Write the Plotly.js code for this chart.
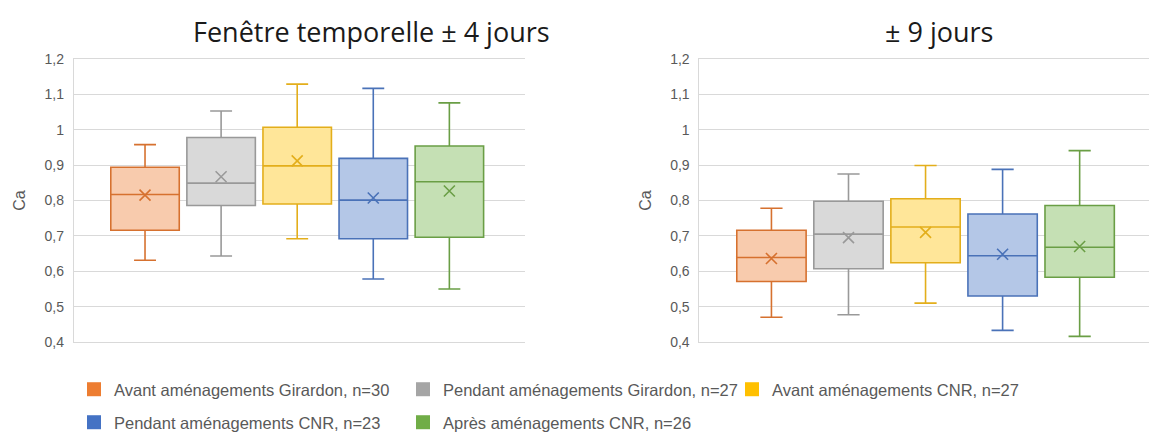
<!DOCTYPE html>
<html>
<head>
<meta charset="utf-8">
<script src="https://cdn.plot.ly/plotly-3.0.1.min.js"></script>
<style>html,body{margin:0;padding:0;background:#fff;}#chart{width:1149px;height:432px;}</style>
</head>
<body>
<div id="chart"></div>
<script>
// ---- Data ----
const seriesNames = [
  "Avant aménagements Girardon, n=30",
  "Pendant aménagements Girardon, n=27",
  "Avant aménagements CNR, n=27",
  "Pendant aménagements CNR, n=23",
  "Après aménagements CNR, n=26"
];
const panelTitles = ["Fenêtre temporelle ± 4 jours", "± 9 jours"];
const yTitle = "Ca";

// ± 4 jours
const w4_lower  = [0.631, 0.643, 0.692, 0.578, 0.550];
const w4_q1     = [0.716, 0.786, 0.790, 0.692, 0.696];
const w4_median = [0.817, 0.849, 0.898, 0.801, 0.853];
const w4_q3     = [0.894, 0.978, 1.007, 0.919, 0.954];
const w4_upper  = [0.958, 1.053, 1.129, 1.117, 1.076];
const w4_mean   = [0.815, 0.867, 0.912, 0.807, 0.827];

// ± 9 jours
const w9_lower  = [0.470, 0.477, 0.510, 0.433, 0.416];
const w9_q1     = [0.571, 0.607, 0.624, 0.530, 0.583];
const w9_median = [0.639, 0.705, 0.725, 0.644, 0.668];
const w9_q3     = [0.716, 0.798, 0.805, 0.762, 0.786];
const w9_upper  = [0.778, 0.875, 0.899, 0.888, 0.941];
const w9_mean   = [0.636, 0.695, 0.710, 0.648, 0.670];

// ---- Styles ----
const fillColors   = ["#F8CBAD", "#D9D9D9", "#FFE699", "#B4C7E7", "#C5E0B4"];
const lineColors   = ["#D6712F", "#999999", "#E3AE1B", "#4A72B8", "#6A9E45"];
const legendColors = ["#ED7D31", "#A5A5A5", "#FFC000", "#4472C4", "#70AD47"];

const W = 1149, H = 432;
const px = v => v / W;
const py = v => 1 - v / H;

const traces = [];
function addPanel(xa, ya, lower, q1, med, q3, upper, mean) {
  seriesNames.forEach((name, i) => {
    traces.push({
      type: "box",
      xaxis: xa, yaxis: ya,
      x: [name],
      lowerfence: [lower[i]], q1: [q1[i]], median: [med[i]], q3: [q3[i]], upperfence: [upper[i]],
      fillcolor: fillColors[i],
      line: {color: lineColors[i], width: 1.6},
      whiskerwidth: 0.32,
      width: 0.9,
      showlegend: false,
      hoverinfo: "y",
      name: name
    });
  });
  traces.push({
    type: "scatter", mode: "markers",
    xaxis: xa, yaxis: ya,
    x: seriesNames, y: mean,
    marker: {symbol: "x-thin-open", size: 11, color: lineColors, line: {color: lineColors, width: 1.6}},
    showlegend: false, hoverinfo: "y"
  });
}
addPanel("x", "y", w4_lower, w4_q1, w4_median, w4_q3, w4_upper, w4_mean);
addPanel("x2", "y2", w9_lower, w9_q1, w9_median, w9_q3, w9_upper, w9_mean);

// legend-only traces
seriesNames.forEach((name, i) => {
  traces.push({
    type: "scatter", mode: "markers",
    x: [null], y: [null], xaxis: "x", yaxis: "y",
    name: name,
    marker: {symbol: "square", size: 14, color: legendColors[i]},
    legend: i < 3 ? "legend" : "legend2",
    showlegend: true, hoverinfo: "skip"
  });
});

const tickFont = {family: "Liberation Sans, Arial, sans-serif", size: 14, color: "#595959"};
function yAxis() {
  return {
    range: [0.4, 1.2], dtick: 0.1, tick0: 0,
    showgrid: true, gridcolor: "#D9D9D9", gridwidth: 1,
    showline: true, linecolor: "#D9D9D9", linewidth: 1,
    zeroline: false, ticks: "", tickfont: tickFont,
    ticklabelstandoff: 6,
    title: {text: yTitle, font: {family: "Liberation Sans, Arial, sans-serif", size: 16, color: "#595959"}, standoff: 14},
    domain: [py(342), py(59)],
    fixedrange: true, automargin: false
  };
}
function xAxis(dom, range) {
  return {
    type: "category", categoryorder: "array", categoryarray: seriesNames,
    range: range, domain: dom,
    showticklabels: false, ticks: "", showgrid: false, zeroline: false,
    showline: true, linecolor: "#D9D9D9", linewidth: 1, mirror: true,
    fixedrange: true, automargin: false
  };
}
const legendFont = {family: "Liberation Sans, Arial, sans-serif", size: 16.5, color: "#595959"};

const layout = {
  width: W, height: H,
  margin: {l: 0, r: 0, t: 0, b: 0, autoexpand: false},
  paper_bgcolor: "#FFFFFF", plot_bgcolor: "#FFFFFF",
  separators: ", ",
  boxmode: "overlay",
  showlegend: true,
  xaxis:  Object.assign(xAxis([px(73.8), px(524.7)], [-0.936, 4.99]), {anchor: "y"}),
  yaxis:  Object.assign(yAxis(), {anchor: "x"}),
  xaxis2: Object.assign(xAxis([px(699.4), 1], [-0.935, 4.9]), {anchor: "y2"}),
  yaxis2: Object.assign(yAxis(), {anchor: "x2"}),
  legend: {
    orientation: "h", x: px(74), y: py(372), xref: "container", yref: "container", xanchor: "left", yanchor: "top",
    font: legendFont, entrywidth: 284, bgcolor: "rgba(0,0,0,0)", itemclick: false, itemdoubleclick: false
  },
  legend2: {
    orientation: "h", x: px(74), y: py(405), xref: "container", yref: "container", xanchor: "left", yanchor: "top",
    font: legendFont, entrywidth: 284, bgcolor: "rgba(0,0,0,0)", itemclick: false, itemdoubleclick: false
  },
  annotations: [
    {text: panelTitles[0], xref: "paper", yref: "paper", x: px(371.5), y: py(31), xanchor: "center", yanchor: "middle",
     showarrow: false, font: {family: "Open Sans, Noto Sans, sans-serif", size: 27, color: "#1A1A1A"}},
    {text: panelTitles[1], xref: "paper", yref: "paper", x: px(938.5), y: py(31), xanchor: "center", yanchor: "middle",
     showarrow: false, font: {family: "Open Sans, Noto Sans, sans-serif", size: 27, color: "#1A1A1A"}}
  ]
};

Plotly.newPlot("chart", traces, layout, {displayModeBar: false, staticPlot: true});
</script>
</body>
</html>
